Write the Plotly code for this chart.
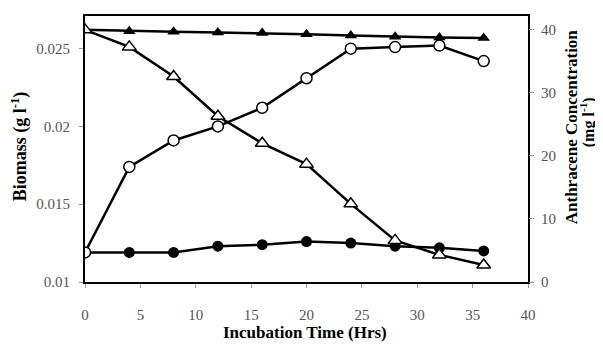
import plotly.graph_objects as go

time_hrs = [0, 4, 8, 12, 16, 20, 24, 28, 32, 36]
biomass_test = [0.0119, 0.0174, 0.0191, 0.0200, 0.0212, 0.0231, 0.0250, 0.0251, 0.0252, 0.0242]
biomass_control = [0.0119, 0.0119, 0.0119, 0.0123, 0.0124, 0.0126, 0.0125, 0.0123, 0.0122, 0.0120]
anthracene_test = [40.0, 37.3, 32.6, 26.3, 22.0, 18.7, 12.4, 6.6, 4.3, 2.7]
anthracene_control = [40.0, 39.8, 39.7, 39.6, 39.5, 39.3, 39.1, 38.9, 38.8, 38.7]

FONT = "Liberation Serif"
fig = go.Figure()

fig.add_trace(go.Scatter(x=time_hrs, y=anthracene_control, yaxis="y2", mode="lines+markers",
                         line=dict(color="black", width=2.5),
                         marker=dict(symbol="triangle-up", size=11, color="black")))
fig.add_trace(go.Scatter(x=time_hrs, y=anthracene_test, yaxis="y2", mode="lines+markers",
                         line=dict(color="black", width=2.5),
                         marker=dict(symbol="triangle-up", size=12, color="white",
                                     line=dict(color="black", width=1.5))))
fig.add_trace(go.Scatter(x=time_hrs, y=biomass_control, mode="lines+markers",
                         line=dict(color="black", width=2.5),
                         marker=dict(symbol="circle", size=11, color="black")))
fig.add_trace(go.Scatter(x=time_hrs, y=biomass_test, mode="lines+markers",
                         line=dict(color="black", width=2.5),
                         marker=dict(symbol="circle", size=11, color="white",
                                     line=dict(color="black", width=1.5))))

tickfont = dict(family=FONT, size=15, color="#555")
fig.update_layout(
    width=595, height=341,
    margin=dict(l=77, r=75, t=6, b=67),
    paper_bgcolor="white", plot_bgcolor="white",
    showlegend=False,
    xaxis=dict(range=[0, 40], tickvals=[0, 5, 10, 15, 20, 25, 30, 35, 40],
               showgrid=False, zeroline=False, showline=True, linecolor="black", linewidth=2,
               mirror=True, ticks="outside", ticklen=4, tickcolor="#999", tickfont=tickfont,
               ticklabelstandoff=14),
    yaxis=dict(range=[0.01, 0.0271], tickvals=[0.01, 0.015, 0.02, 0.025],
               ticktext=["0.01", "0.015", "0.02", "0.025"],
               showgrid=False, zeroline=False, showline=True, linecolor="black", linewidth=2,
               mirror=True, ticks="outside", ticklen=4, tickcolor="#999", tickfont=tickfont,
               ticklabelstandoff=6),
    yaxis2=dict(range=[0, 42.2], tickvals=[0, 10, 20, 30, 40], overlaying="y", side="right",
                showgrid=False, zeroline=False, showline=False,
                ticks="outside", ticklen=5, tickcolor="#999", tickfont=tickfont,
                ticklabelstandoff=4),
    annotations=[
        dict(text="<b>Biomass (g l<sup>-1</sup>)</b>", xref="paper", yref="paper",
             x=-0.147, y=0.51, textangle=-90, showarrow=False,
             font=dict(family=FONT, size=18, color="black"), xanchor="center", yanchor="middle"),
        dict(text="<b>Anthracene Concentration</b>", xref="paper", yref="paper",
             x=1.099, y=0.585, textangle=-90, showarrow=False,
             font=dict(family=FONT, size=17, color="black"), xanchor="center", yanchor="middle"),
        dict(text="<b>(mg l<sup>-1</sup>)</b>", xref="paper", yref="paper",
             x=1.135, y=0.60, textangle=-90, showarrow=False,
             font=dict(family=FONT, size=16, color="black"), xanchor="center", yanchor="middle"),
        dict(text="<b>Incubation Time (Hrs)</b>", xref="paper", yref="paper",
             x=0.497, y=-0.19, showarrow=False,
             font=dict(family=FONT, size=17, color="black"), xanchor="center", yanchor="middle"),
    ],
)

fig.write_html("out.html")
